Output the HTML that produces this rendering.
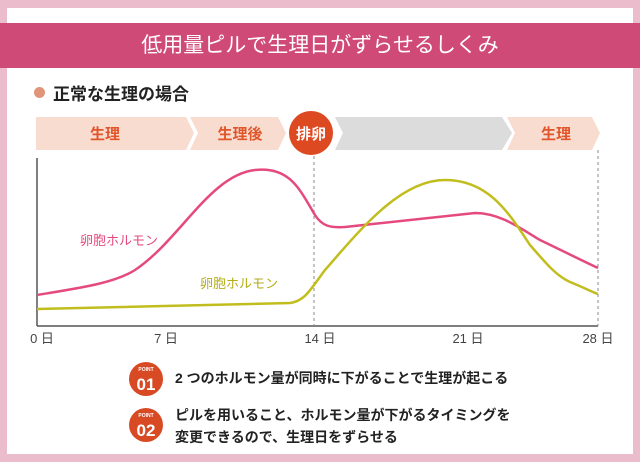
<!DOCTYPE html>
<html><head><meta charset="utf-8"><style>
body{margin:0;width:640px;height:462px;background:#ebbccb;font-family:"Liberation Sans","Noto Sans CJK JP",sans-serif;position:relative;overflow:hidden}
.panel{position:absolute;left:7px;top:8px;width:626px;height:446px;background:#fff}
.hdr{position:absolute;left:0;top:23px;width:640px;height:45px;background:#d04a78;color:#fff;font-size:21px;text-align:center;line-height:45px}
.t{position:absolute;white-space:nowrap}
</style></head><body>
<div class="panel"></div>
<div class="hdr">低用量ピルで生理日がずらせるしくみ</div>
<div class="t" style="left:34px;top:87px;width:11px;height:11px;border-radius:50%;background:#e0957a"></div>
<div class="t" style="left:53px;top:80px;font-size:17px;font-weight:bold;color:#222">正常な生理の場合</div>
<svg width="640" height="462" style="position:absolute;left:0;top:0">
<polygon points="36,117 186,117 194,133 186,150 36,150" fill="#f8dccf"/>
<polygon points="190,117 278,117 286,133 278,150 190,150 198,133" fill="#f8dccf"/>
<polygon points="335,117 502,117 512,133 502,150 335,150 343,133" fill="#dcdcdc"/>
<polygon points="507,117 592,117 600,133 592,150 507,150 515,133" fill="#f8dccf"/>
<circle cx="311" cy="133" r="22" fill="#dd4a22"/>
<g font-size="15" font-weight="bold" fill="#e0562a" text-anchor="middle" font-family="Liberation Sans,Noto Sans CJK JP,sans-serif">
<text x="105" y="139">生理</text><text x="240" y="139">生理後</text><text x="556" y="139">生理</text>
<text x="311" y="139" fill="#fff">排卵</text></g>
<line x1="37" y1="158" x2="37" y2="326" stroke="#555" stroke-width="1.5"/>
<line x1="37" y1="326" x2="598" y2="326" stroke="#555" stroke-width="1.5"/>
<line x1="314" y1="156" x2="314" y2="326" stroke="#888" stroke-dasharray="3,3"/>
<line x1="598" y1="150" x2="598" y2="326" stroke="#888" stroke-dasharray="3,3"/>
<path d="M37,295 C80,288 115,283 135,270 C180,240 210,175 255,170 C290,166 300,190 315,215 C322,226 330,228 345,227 L475,213 C500,213 520,228 540,240 C565,252 585,262 598,268" fill="none" stroke="#e54a7f" stroke-width="2.5"/>
<path d="M37,309 L290,303 C305,301 310,290 325,270 C360,230 400,180 445,180 C490,180 510,215 530,245 C545,262 555,275 570,282 C585,288 592,292 598,294" fill="none" stroke="#c2bd1e" stroke-width="2.5"/>
<g font-size="13" font-family="Liberation Sans,Noto Sans CJK JP,sans-serif">
<text x="80" y="245" fill="#e54a7f">卵胞ホルモン</text>
<text x="200" y="288" fill="#b3ae18">卵胞ホルモン</text>
<g fill="#444" text-anchor="middle" font-size="13"><text x="42" y="343">0 日</text><text x="166" y="343">7 日</text><text x="320" y="343">14 日</text><text x="468" y="343">21 日</text><text x="598" y="343">28 日</text></g>
</g>
<g font-family="Liberation Sans,sans-serif" font-weight="bold" fill="#fff" text-anchor="middle">
<circle cx="146" cy="379" r="17" fill="#d84a24"/><text x="146" y="371" font-size="5">POINT</text><text x="146" y="390" font-size="17">01</text>
<circle cx="146" cy="425" r="17" fill="#d84a24"/><text x="146" y="417" font-size="5">POINT</text><text x="146" y="436" font-size="17">02</text>
</g>
<g font-size="14" font-weight="bold" fill="#222" font-family="Liberation Sans,Noto Sans CJK JP,sans-serif">
<text x="175" y="383">2 つのホルモン量が同時に下がることで生理が起こる</text>
<text x="175" y="420">ピルを用いること、ホルモン量が下がるタイミングを</text>
<text x="175" y="442">変更できるので、生理日をずらせる</text>
</g>
</svg>
</body></html>
